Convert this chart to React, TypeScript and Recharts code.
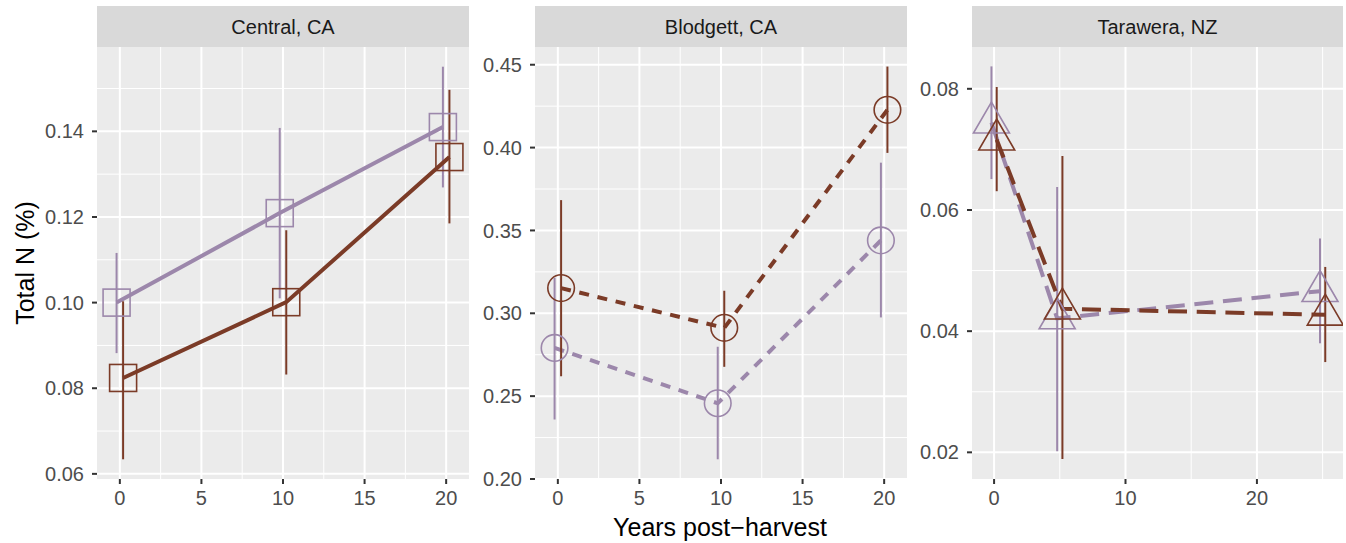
import React from "react";
import { ComposedChart, Line, XAxis, YAxis, CartesianGrid, ErrorBar } from "recharts";

const PURPLE = "#9C87AB";
const BROWN = "#7B3B27";
const FONT = '"Liberation Sans", Arial, Helvetica, sans-serif';

// Central, CA
const centralYears = [0, 10, 20];
const centralPurple = [0.1, 0.1209, 0.141];
const centralPurpleLo = [0.0882, 0.101, 0.1269];
const centralPurpleHi = [0.1116, 0.1408, 0.1551];
const centralBrown = [0.0824, 0.1001, 0.134];
const centralBrownLo = [0.0634, 0.0832, 0.1185];
const centralBrownHi = [0.1003, 0.1169, 0.1497];

// Blodgett, CA
const blodgettYears = [0, 10, 20];
const blodgettPurple = [0.2791, 0.2457, 0.344];
const blodgettPurpleLo = [0.2359, 0.2119, 0.2975];
const blodgettPurpleHi = [0.3215, 0.2798, 0.3909];
const blodgettBrown = [0.3152, 0.2912, 0.4228];
const blodgettBrownLo = [0.262, 0.2677, 0.3968];
const blodgettBrownHi = [0.3683, 0.3136, 0.4489];

// Tarawera, NZ
const taraweraYears = [0, 5, 25];
const taraweraPurple = [0.0744, 0.0421, 0.0466];
const taraweraPurpleLo = [0.0651, 0.0202, 0.038];
const taraweraPurpleHi = [0.0837, 0.0638, 0.0553];
const taraweraBrown = [0.0716, 0.0437, 0.0427];
const taraweraBrownLo = [0.0631, 0.0189, 0.0349];
const taraweraBrownHi = [0.0803, 0.0689, 0.0506];

// position_dodge offset, years
const DODGE = 0.2;

const build = (years: number[], vals: number[], lo: number[], hi: number[], shift: number) =>
  years.map((yr, i) => ({ x: yr + shift, y: vals[i], err: [vals[i] - lo[i], hi[i] - vals[i]] }));

const PANEL_TOP = 47;
const PANEL_BOTTOM = 479;
const YAXW = 70;
const XAXH = 40;

const facets = [
  {
    title: "Central, CA", left: 97, width: 372, shape: "square", dash: undefined,
    purple: build(centralYears, centralPurple, centralPurpleLo, centralPurpleHi, -DODGE),
    brown: build(centralYears, centralBrown, centralBrownLo, centralBrownHi, DODGE),
    xDomain: [-1.4, 21.4], xTicks: [0, 5, 10, 15, 20], xMinor: [2.5, 7.5, 12.5, 17.5],
    yDomain: [0.0588, 0.1597], yTicks: [0.06, 0.08, 0.1, 0.12, 0.14], yMinor: [0.07, 0.09, 0.11, 0.13, 0.15],
  },
  {
    title: "Blodgett, CA", left: 535, width: 372, shape: "circle", dash: "10 8.7",
    purple: build(blodgettYears, blodgettPurple, blodgettPurpleLo, blodgettPurpleHi, -DODGE),
    brown: build(blodgettYears, blodgettBrown, blodgettBrownLo, blodgettBrownHi, DODGE),
    xDomain: [-1.4, 21.4], xTicks: [0, 5, 10, 15, 20], xMinor: [2.5, 7.5, 12.5, 17.5],
    yDomain: [0.2, 0.4607], yTicks: [0.2, 0.25, 0.3, 0.35, 0.4, 0.45], yMinor: [0.225, 0.275, 0.325, 0.375, 0.425],
  },
  {
    title: "Tarawera, NZ", left: 972, width: 371, shape: "triangle", dash: "19 9.7",
    purple: build(taraweraYears, taraweraPurple, taraweraPurpleLo, taraweraPurpleHi, -DODGE),
    brown: build(taraweraYears, taraweraBrown, taraweraBrownLo, taraweraBrownHi, DODGE),
    xDomain: [-1.68, 26.55], xTicks: [0, 10, 20], xMinor: [5, 15, 25],
    yDomain: [0.0156, 0.0869], yTicks: [0.02, 0.04, 0.06, 0.08], yMinor: [0.03, 0.05, 0.07],
  },
];

function Marker(props: any) {
  const { cx, cy, shape, color } = props;
  if (cx == null || cy == null) return null;
  if (shape === "square") {
    return <rect x={cx - 13.5} y={cy - 13.5} width={27} height={27} fill="none" stroke={color} strokeWidth={1.6} />;
  }
  if (shape === "circle") {
    return <circle cx={cx} cy={cy} r={13.3} fill="none" stroke={color} strokeWidth={1.6} />;
  }
  const pts = `${cx},${cy - 20.7} ${cx + 18},${cy + 10.3} ${cx - 18},${cy + 10.3}`;
  return <polygon points={pts} fill="none" stroke={color} strokeWidth={1.6} />;
}

function Facet({ f }: { f: any }) {
  const tick = { fill: "#4D4D4D", fontSize: 20, fontFamily: FONT };
  const tickLine = { stroke: "#333333", strokeWidth: 2 };
  const series = [
    { name: "purple", data: f.purple, color: PURPLE },
    { name: "brown", data: f.brown, color: BROWN },
  ];
  return (
    <div style={{ position: "absolute", left: f.left - YAXW, top: 0 }}>
      <ComposedChart
        width={YAXW + f.width}
        height={543}
        margin={{ top: PANEL_TOP, right: 0, bottom: 543 - PANEL_BOTTOM - XAXH, left: 0 }}
      >
        <CartesianGrid
          fill="#EBEBEB"
          fillOpacity={1}
          stroke="#FFFFFF"
          strokeWidth={1}
          horizontalValues={f.yMinor}
          verticalValues={f.xMinor}
        />
        <CartesianGrid
          stroke="#FFFFFF"
          strokeWidth={2}
          horizontalValues={f.yTicks}
          verticalValues={f.xTicks}
        />
        <XAxis
          type="number"
          dataKey="x"
          domain={f.xDomain}
          ticks={f.xTicks}
          height={XAXH}
          axisLine={false}
          tickLine={tickLine}
          tickSize={5}
          tickMargin={7}
          tick={tick}
          interval={0}
        />
        <YAxis
          type="number"
          dataKey="y"
          domain={f.yDomain}
          ticks={f.yTicks}
          width={YAXW}
          axisLine={false}
          tickLine={tickLine}
          tickSize={5}
          tickMargin={8}
          tick={tick}
          interval={0}
          tickFormatter={(v: number) => v.toFixed(2)}
        />
        {series.map((s) => (
          <Line
            key={s.name}
            data={s.data}
            dataKey="y"
            type="linear"
            stroke={s.color}
            strokeWidth={4}
            strokeDasharray={f.dash}
            strokeLinecap="butt"
            isAnimationActive={false}
            legendType="none"
            activeDot={false}
            dot={(p: any) => <Marker key={`${s.name}-${p.index}`} cx={p.cx} cy={p.cy} shape={f.shape} color={s.color} />}
          >
            <ErrorBar dataKey="err" direction="y" width={0} stroke={s.color} strokeWidth={2} isAnimationActive={false} />
          </Line>
        ))}
      </ComposedChart>
    </div>
  );
}

export default function App() {
  return (
    <div style={{ position: "absolute", left: 0, top: 0, width: 1346, height: 543, background: "#FFFFFF", fontFamily: FONT }}>
      {facets.map((f) => (
        <Facet key={f.title} f={f} />
      ))}
      <svg width={1346} height={543} style={{ position: "absolute", left: 0, top: 0, pointerEvents: "none" }}>
        {facets.map((f) => (
          <g key={f.title}>
            <rect x={f.left} y={6} width={f.width} height={PANEL_TOP - 6} fill="#D9D9D9" />
            <text x={f.left + f.width / 2} y={27} textAnchor="middle" dominantBaseline="central" fontSize={20} fill="#1A1A1A" fontFamily={FONT}>
              {f.title}
            </text>
          </g>
        ))}
        <text x={720} y={536} textAnchor="middle" fontSize={25} fill="#000000" fontFamily={FONT}>
          Years post−harvest
        </text>
        <text x={34} y={263} textAnchor="middle" fontSize={25} fill="#000000" fontFamily={FONT} transform="rotate(-90 34 263)">
          Total N (%)
        </text>
      </svg>
    </div>
  );
}
